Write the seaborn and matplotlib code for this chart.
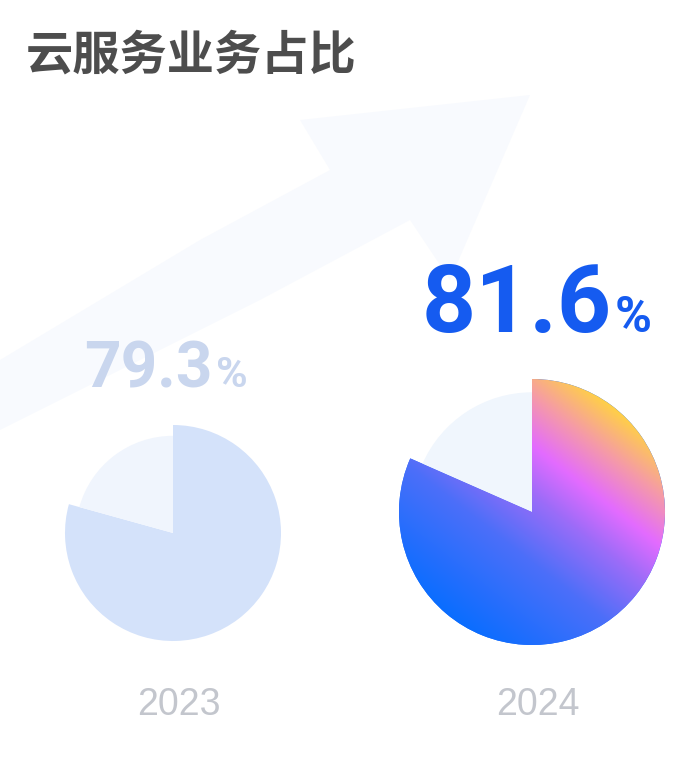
"""
Cloud service share, 2023 vs 2024 - two pie charts
"""
import numpy as np
import matplotlib
matplotlib.use("Agg")
import matplotlib.pyplot as plt
from matplotlib.colors import LinearSegmentedColormap
from matplotlib.patches import Polygon
import seaborn as sns

title = "云服务业务占比"
years = ["2023", "2024"]
shares = [79.3, 81.6]

sns.set_theme(style="white")
plt.rcParams["font.family"] = ["Noto Sans CJK SC", "DejaVu Sans"]

W, H = 700, 760
fig = plt.figure(figsize=(W / 100, H / 100), dpi=100)
ax = fig.add_axes([0, 0, 1, 1])

# faint background swoosh
ax.add_patch(Polygon([(0, 330), (0, 400), (200, 520), (330, 590), (300, 640),
                      (530, 665), (450, 480), (410, 540), (260, 460)],
                     closed=True, facecolor="#f8fafe", edgecolor="none", zorder=0))

centers = [(173, H - 533), (532, H - 512)]
radii = [108, 133]
main_colors = ["#d4e2fa", "#1a6cff"]
rest_colors = ["#f0f5fd", "#f0f6fd"]

grad = LinearSegmentedColormap.from_list(
    "g", [(0.0, "#0a6dff"), (0.35, "#4c6ff9"), (0.55, "#9a6cf8"),
          (0.7, "#e36bff"), (0.85, "#f59aa8"), (1.0, "#ffcf48")])

for i, (yr, s) in enumerate(zip(years, shares)):
    cx, cy = centers[i]
    r = radii[i]
    wedges, _ = ax.pie([s, 100 - s], colors=[main_colors[i], rest_colors[i]],
                       startangle=90, counterclock=False, center=(cx, cy),
                       radius=r, frame=True, wedgeprops=dict(linewidth=0))
    wedges[1].set_radius(r * 0.9)
    if i == 1:
        n = 300
        xs = np.linspace(-1, 1, n)
        X, Y = np.meshgrid(xs, xs[::-1])
        ang = np.deg2rad(52)
        t = (X * np.cos(ang) + Y * np.sin(ang) + 1) / 2
        img = ax.imshow(grad(np.clip(t, 0, 1)), extent=(cx - r, cx + r, cy - r, cy + r),
                        origin="upper", zorder=3, interpolation="bilinear")
        img.set_clip_path(wedges[0])

ax.set_xlim(0, W)
ax.set_ylim(0, H)
ax.set_aspect("equal")
ax.axis("off")

# title
ax.text(26, H - 56, title, fontsize=34, fontweight="bold", color="#4d4d4d",
        ha="left", va="center")

# percentage labels
num_styles = [dict(x=213, y=H - 387, size=46, psize=31, color="#c9d6ee"),
              dict(x=612, y=H - 332, size=68, psize=36, color="#155bf0")]
for s, st in zip(shares, num_styles):
    ax.text(st["x"], st["y"], f"{s:.1f}", fontsize=st["size"], fontweight="bold",
            color=st["color"], ha="right", va="baseline", family="Roboto", zorder=5)
    ax.text(st["x"] + 3, st["y"], "%", fontsize=st["psize"], fontweight="bold",
            color=st["color"], ha="left", va="baseline", family="Roboto", zorder=5)

# year labels
for yr, (cx, cy) in zip(years, centers):
    ax.text(cx + 6, H - 715, yr, fontsize=27, color="#c3c6cd", ha="center",
            va="baseline", family="Liberation Sans")

fig.savefig("out.png", dpi=100, facecolor="white")
